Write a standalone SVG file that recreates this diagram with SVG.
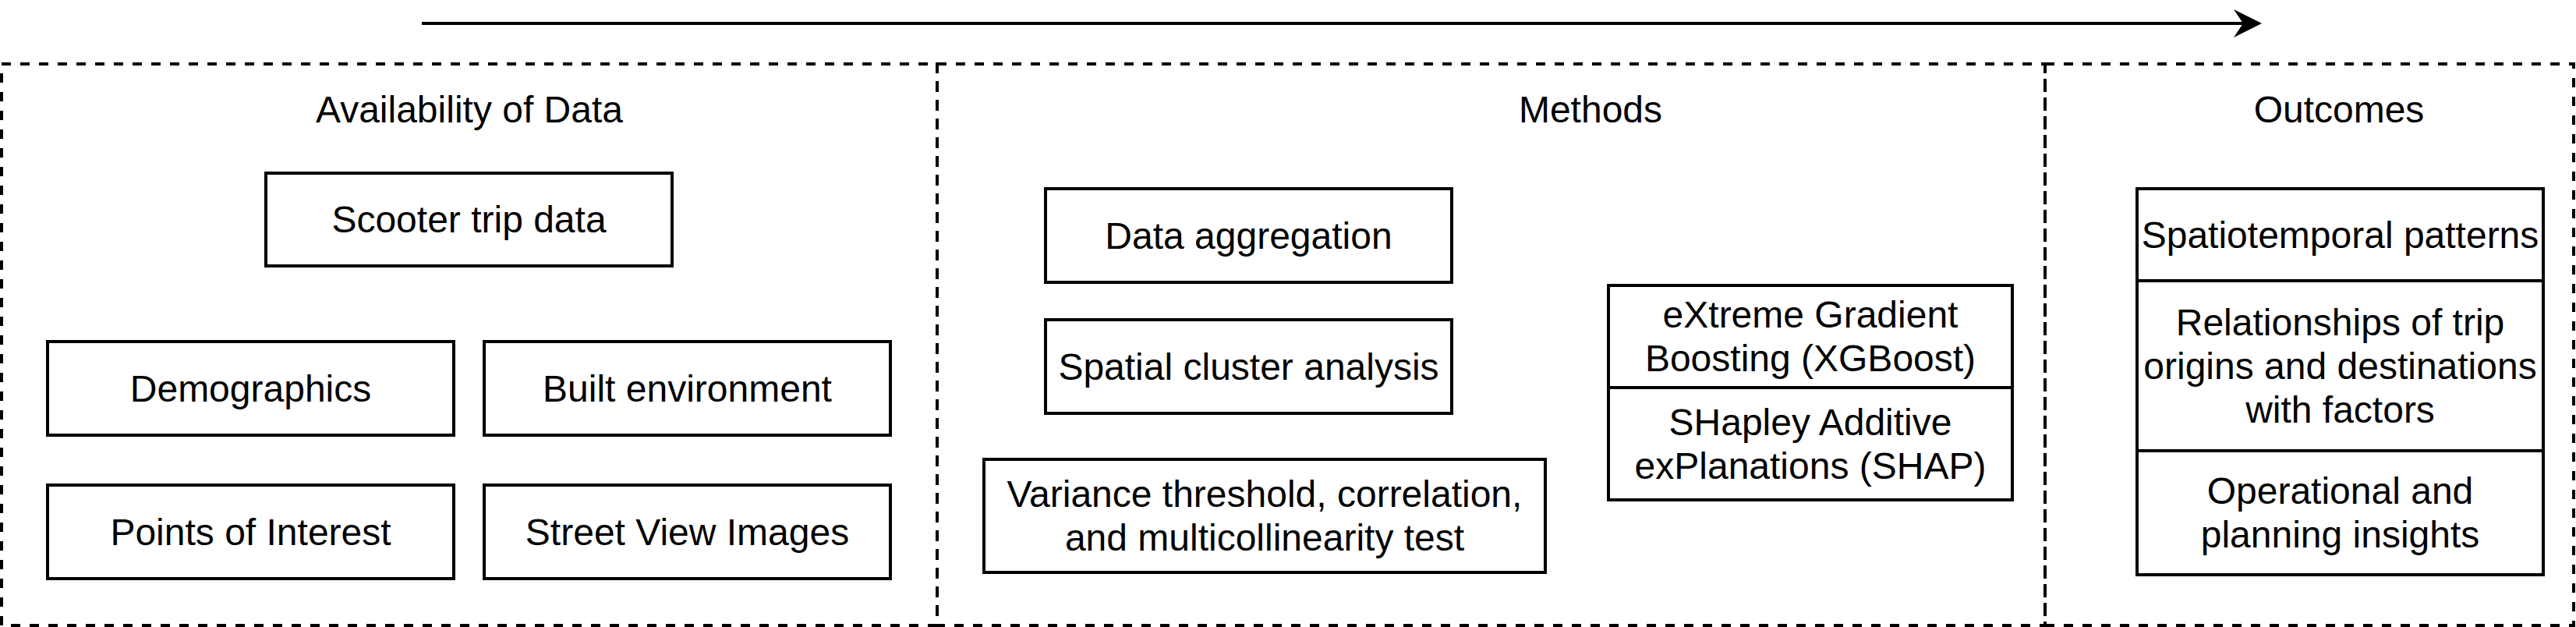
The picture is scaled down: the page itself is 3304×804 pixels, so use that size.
<svg xmlns="http://www.w3.org/2000/svg" width="3304" height="804" viewBox="0 0 3304 804">
  <style>
    text { font-family: "Liberation Sans", Arial, Helvetica, sans-serif; font-size: 48px; fill: #000; text-anchor: middle; }
    .box { fill: #fff; stroke: #000; stroke-width: 4; }
    .frame { fill: none; stroke: #000; stroke-width: 4; stroke-dasharray: 12 12; }
    .conn { fill: none; stroke: #000; stroke-width: 4; }
  </style>
  <defs>
    <marker id="arrow" markerUnits="userSpaceOnUse" viewBox="0 0 36 36" markerWidth="36" markerHeight="36" refX="20" refY="18" orient="auto">
      <path d="M0,0 L36,18 L0,36 L12,18 Z" fill="#000"/>
    </marker>
  </defs>
  <rect width="3304" height="804" fill="#fff"/>

  <g id="connectors">
    <line class="conn" x1="541" y1="30" x2="2885" y2="30" marker-end="url(#arrow)"/>
  </g>

  <g id="section-data">
    <rect class="frame" x="2" y="82" width="1200" height="720"/>
    <text x="602" y="157">Availability of Data</text>
  </g>
  <g id="section-methods">
    <rect class="frame" x="1202" y="82" width="1421" height="720"/>
    <text x="2040" y="157">Methods</text>
  </g>
  <g id="section-outcomes">
    <rect class="frame" x="2623" y="82" width="678" height="720"/>
    <text x="3000" y="157">Outcomes</text>
  </g>

  <g id="scooter">
    <rect class="box" x="341" y="222" width="521" height="119"/>
    <text x="601.5" y="298">Scooter trip data</text>
  </g>
  <g id="demographics">
    <rect class="box" x="61" y="438" width="521" height="120"/>
    <text x="321.5" y="514.5">Demographics</text>
  </g>
  <g id="built-environment">
    <rect class="box" x="621" y="438" width="521" height="120"/>
    <text x="881.5" y="514.5">Built environment</text>
  </g>
  <g id="poi">
    <rect class="box" x="61" y="622" width="521" height="120"/>
    <text x="321.5" y="698.5">Points of Interest</text>
  </g>
  <g id="street-view">
    <rect class="box" x="621" y="622" width="521" height="120"/>
    <text x="881.5" y="698.5">Street View Images</text>
  </g>

  <g id="data-aggregation">
    <rect class="box" x="1341" y="242" width="521" height="120"/>
    <text x="1601.5" y="318.5">Data aggregation</text>
  </g>
  <g id="spatial-cluster">
    <rect class="box" x="1341" y="410" width="521" height="120"/>
    <text x="1601.5" y="486.5">Spatial cluster analysis</text>
  </g>
  <g id="variance">
    <rect class="box" x="1262" y="589" width="720" height="145"/>
    <text x="1622" y="650">Variance threshold, correlation,</text>
    <text x="1622" y="706">and multicollinearity test</text>
  </g>
  <g id="xgboost">
    <rect class="box" x="2063" y="366" width="518" height="131"/>
    <text x="2322" y="420">eXtreme Gradient</text>
    <text x="2322" y="476">Boosting (XGBoost)</text>
  </g>
  <g id="shap">
    <rect class="box" x="2063" y="497" width="518" height="144"/>
    <text x="2322" y="557.5">SHapley Additive</text>
    <text x="2322" y="613.5">exPlanations (SHAP)</text>
  </g>

  <g id="spatiotemporal">
    <rect class="box" x="2741" y="242" width="521" height="118"/>
    <text x="3001.5" y="317.5">Spatiotemporal patterns</text>
  </g>
  <g id="relationships">
    <rect class="box" x="2741" y="360" width="521" height="218"/>
    <text x="3001.5" y="429.5">Relationships of trip</text>
    <text x="3001.5" y="485.5">origins and destinations</text>
    <text x="3001.5" y="541.5">with factors</text>
  </g>
  <g id="insights">
    <rect class="box" x="2741" y="578" width="521" height="159"/>
    <text x="3001.5" y="646">Operational and</text>
    <text x="3001.5" y="702">planning insights</text>
  </g>
</svg>
